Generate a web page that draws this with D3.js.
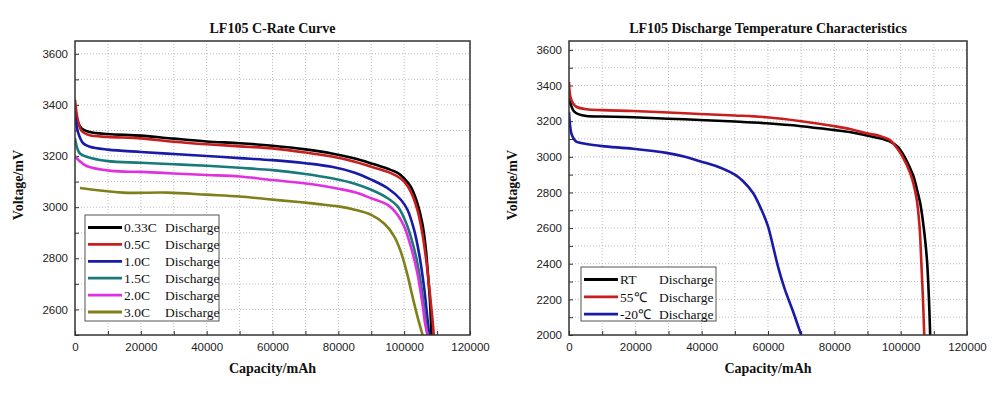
<!DOCTYPE html>
<html>
<head>
<meta charset="utf-8">
<script src="https://cdn.jsdelivr.net/npm/d3@7"></script>
<style>
  html, body { margin: 0; padding: 0; background: #fff; }
  svg { display: block; }
  .title, .axis-title { font-family: "Liberation Serif", "Times New Roman", serif; font-weight: bold; font-size: 14px; fill: #111; }
  .tick text { font-family: "Liberation Sans", Arial, sans-serif; font-size: 11.5px; fill: #222; }
  .legend text { font-family: "Liberation Serif", "Times New Roman", serif; font-size: 13.5px; fill: #111; }
</style>
</head>
<body>
<div id="chart"></div>
<script>
// capacity (mAh) vs voltage (mV)
const rate033 = [[0,3395],[800,3335],[2000,3308],[4500,3294],[10000,3286],[20000,3280],[30000,3268],[40000,3257],[50000,3250],[60000,3240],[70000,3226],[78000,3210],[85000,3190],[90000,3171],[95000,3150],[98000,3134],[100000,3113],[102000,3080],[104000,3016],[105500,2938],[106500,2847],[107200,2743],[107800,2639],[108300,2500]];
const rate05 = [[0,3420],[800,3345],[2000,3298],[4500,3281],[10000,3275],[20000,3269],[30000,3256],[40000,3246],[50000,3238],[60000,3230],[70000,3214],[78000,3198],[85000,3178],[90000,3158],[95000,3138],[98000,3120],[100000,3100],[102000,3061],[104000,2990],[105500,2899],[106800,2782],[107800,2665],[108500,2574],[109000,2500]];
const rate10 = [[0,3360],[1000,3290],[2500,3250],[4500,3236],[10000,3225],[20000,3216],[30000,3208],[40000,3200],[50000,3192],[60000,3184],[70000,3172],[78000,3158],[85000,3135],[90000,3108],[95000,3074],[99000,3029],[101000,2990],[103000,2912],[104500,2821],[106000,2691],[107000,2574],[107600,2500]];
const rate15 = [[0,3270],[700,3230],[1500,3210],[3500,3197],[10000,3180],[20000,3174],[30000,3168],[40000,3162],[50000,3154],[60000,3145],[70000,3130],[78000,3113],[85000,3092],[90000,3068],[95000,3035],[98000,3003],[100000,2957],[102000,2886],[104000,2782],[105500,2665],[106500,2561],[107000,2500]];
const rate20 = [[0,3200],[1000,3185],[3500,3161],[11000,3142],[20000,3138],[30000,3132],[40000,3126],[50000,3120],[60000,3106],[72000,3090],[80000,3072],[85000,3058],[90000,3035],[95000,3009],[98000,2970],[100000,2925],[102000,2847],[104000,2743],[105500,2626],[106500,2535],[107200,2500]];
const rate30 = [[1500,3075],[14500,3057],[28000,3057],[40000,3049],[50000,3042],[58000,3032],[68000,3020],[74000,3012],[80000,3003],[85000,2990],[90000,2970],[94000,2935],[97000,2885],[99000,2825],[101000,2735],[102500,2652],[104000,2574],[105600,2500]];

const tempRT = [[0,3330],[600,3290],[1500,3255],[3000,3238],[5250,3229],[10000,3226],[19300,3222],[30000,3214],[39460,3207],[50000,3198],[59600,3188],[70000,3172],[79700,3151],[85000,3138],[89800,3120],[93700,3104],[96800,3085],[99000,3058],[100800,3012],[102500,2950],[103900,2888],[105000,2810],[105900,2739],[106700,2640],[107400,2530],[108000,2402],[108500,2215],[108900,2000]];
const temp55 = [[0,3420],[400,3340],[1200,3300],[2200,3281],[5250,3267],[10000,3262],[19300,3257],[30000,3249],[39460,3240],[50000,3232],[59600,3222],[70000,3200],[79700,3173],[85000,3155],[89800,3132],[93700,3117],[96800,3094],[97800,3075],[100300,3010],[102900,2907],[104700,2776],[105700,2607],[106200,2420],[106700,2215],[107100,2000]];
const tempM20 = [[0,3253],[300,3180],[700,3132],[1500,3100],[2200,3085],[5250,3072],[10000,3060],[19300,3045],[29400,3022],[35000,3000],[39500,2975],[44500,2947],[50000,2900],[52500,2863],[55500,2797],[58000,2704],[60000,2610],[61500,2500],[63000,2385],[65000,2260],[67500,2135],[70000,2000]];

const rateNames = ['0.33C', '0.5C', '1.0C', '1.5C', '2.0C', '3.0C'];
const rateColors = ['#000000', '#c81e1e', '#1a1aa8', '#1a7a7a', '#e030e0', '#80801a'];
const tempNames = ['RT', '55\u2103', '-20\u2103'];
const tempColors = ['#000000', '#c81e1e', '#1a1aa8'];

const capTicks = [0, 20000, 40000, 60000, 80000, 100000, 120000];

const svg = d3.select('#chart').append('svg').attr('width', 1000).attr('height', 396);

function drawPanel(opt) {
  const { left, right, top, bottom, yDomain, yTicks, series, names, colors, title, legend, id } = opt;
  const x = d3.scaleLinear().domain([0, 120000]).range([left, right]);
  const y = d3.scaleLinear().domain(yDomain).range([bottom, top]);
  const g = svg.append('g');

  // dotted grid on every minor step
  const xMinor = d3.range(0, 120001, 10000);
  const yMinor = d3.range(Math.ceil(yDomain[0] / 100) * 100, yDomain[1] + 1, 100);
  g.append('g').selectAll('line').data(xMinor.slice(1)).join('line')
    .attr('x1', (d) => x(d)).attr('x2', (d) => x(d)).attr('y1', top).attr('y2', bottom)
    .attr('stroke', '#bdbdbd').attr('stroke-dasharray', '1,2');
  g.append('g').selectAll('line').data(yMinor.slice(1)).join('line')
    .attr('x1', left).attr('x2', right).attr('y1', (d) => y(d)).attr('y2', (d) => y(d))
    .attr('stroke', '#bdbdbd').attr('stroke-dasharray', '1,2');

  // axes, ticks inward
  const xAxis = g.append('g').attr('transform', `translate(0,${bottom})`)
    .call(d3.axisBottom(x).tickValues(xMinor).tickSize(-4).tickPadding(8)
      .tickFormat((d) => (capTicks.includes(d) ? d : '')));
  xAxis.select('.domain').remove();
  xAxis.selectAll('.tick line').attr('stroke', '#333');

  const yAxis = g.append('g').attr('transform', `translate(${left},0)`)
    .call(d3.axisLeft(y).tickValues(yMinor).tickSize(-4).tickPadding(7)
      .tickFormat((d) => (yTicks.includes(d) ? d : '')));
  yAxis.select('.domain').remove();
  yAxis.selectAll('.tick line').attr('stroke', '#333');

  // curves
  g.append('clipPath').attr('id', id).append('rect')
    .attr('x', left).attr('y', top).attr('width', right - left).attr('height', bottom - top);
  const line = d3.line().x((d) => x(d[0])).y((d) => y(d[1])).curve(d3.curveCatmullRom.alpha(0.5));
  g.append('g').attr('clip-path', `url(#${id})`)
    .selectAll('path').data(series).join('path')
    .attr('d', line).attr('fill', 'none')
    .attr('stroke', (d, i) => colors[i]).attr('stroke-width', 2.6)
    .attr('stroke-linejoin', 'round');

  // frame
  g.append('rect').attr('x', left).attr('y', top).attr('width', right - left).attr('height', bottom - top)
    .attr('fill', 'none').attr('stroke', '#333').attr('stroke-width', 1.5);

  g.append('text').attr('class', 'title').attr('x', (left + right) / 2).attr('y', 33)
    .attr('text-anchor', 'middle').text(title);
  g.append('text').attr('class', 'axis-title').attr('x', (left + right) / 2).attr('y', 373)
    .attr('text-anchor', 'middle').text('Capacity/mAh');
  g.append('text').attr('class', 'axis-title')
    .attr('transform', `translate(${left - 52},185) rotate(-90)`)
    .attr('text-anchor', 'middle').text('Voltage/mV');

  // legend
  const lg = g.append('g').attr('class', 'legend');
  lg.append('rect').attr('x', legend.x).attr('y', legend.y).attr('width', legend.w).attr('height', legend.h)
    .attr('fill', '#fff').attr('stroke', '#555').attr('stroke-width', 1);
  const row = lg.selectAll('g').data(names).join('g')
    .attr('transform', (d, i) => `translate(${legend.x + 3},${legend.y + 12.5 + i * legend.step})`);
  row.append('line').attr('x1', 0).attr('x2', 34).attr('stroke', (d, i) => colors[i]).attr('stroke-width', 2.8);
  row.append('text').attr('x', 36).attr('dy', '0.35em').text((d) => d);
  row.append('text').attr('x', legend.col).attr('dy', '0.35em').text('Discharge');
}

drawPanel({
  id: 'clip-rate', left: 75, right: 470, top: 41, bottom: 335,
  yDomain: [2500, 3650], yTicks: [2600, 2800, 3000, 3200, 3400, 3600],
  series: [rate033, rate05, rate10, rate15, rate20, rate30],
  names: rateNames, colors: rateColors, title: 'LF105 C-Rate Curve',
  legend: { x: 85, y: 215, w: 134, h: 106, step: 16.9, col: 77 },
});

drawPanel({
  id: 'clip-temp', left: 569, right: 967, top: 41, bottom: 335,
  yDomain: [2000, 3650], yTicks: [2000, 2200, 2400, 2600, 2800, 3000, 3200, 3400, 3600],
  series: [tempRT, temp55, tempM20],
  names: tempNames, colors: tempColors, title: 'LF105 Discharge Temperature Characteristics',
  legend: { x: 581, y: 267, w: 135, h: 54, step: 17.3, col: 75 },
});
</script>
</body>
</html>
